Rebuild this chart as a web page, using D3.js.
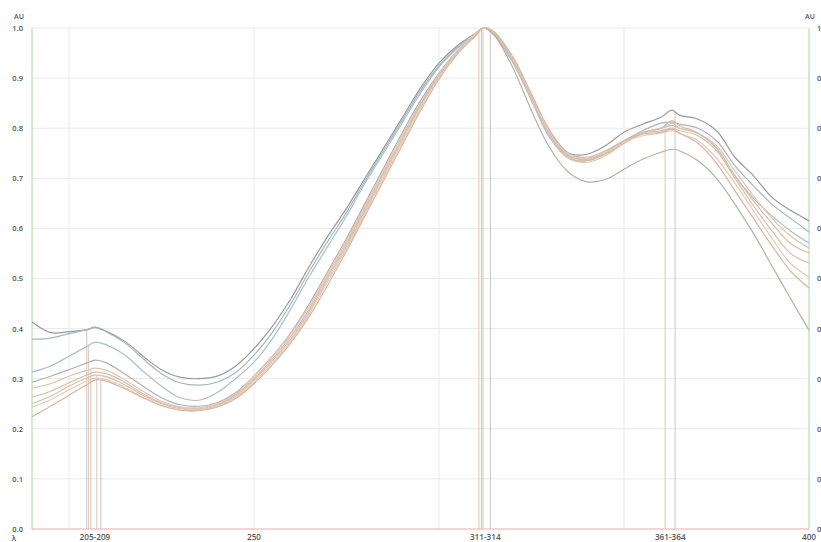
<!DOCTYPE html>
<html><head><meta charset="utf-8">
<script src="https://cdn.jsdelivr.net/npm/d3@7/dist/d3.min.js"></script>
<style>html,body{margin:0;padding:0;background:#fff;overflow:hidden}svg{display:block}</style>
</head><body><div id="chart"></div>
<script>
const wavelengths = [190,195,200,205,207,210,215,220,225,230,235,240,245,250,255,260,265,270,275,280,285,290,295,300,305,310,312,315,320,325,330,335,340,345,350,355,360,363,365,370,375,380,385,390,395,400];

const s1 = [0.413,0.392,0.394,0.398,0.403,0.395,0.375,0.345,0.318,0.303,0.300,0.305,0.325,0.360,0.405,0.460,0.525,0.585,0.640,0.700,0.760,0.820,0.880,0.930,0.965,0.990,1.000,0.990,0.940,0.865,0.790,0.750,0.748,0.765,0.792,0.808,0.822,0.836,0.826,0.818,0.795,0.742,0.705,0.662,0.636,0.615];
const s2 = [0.379,0.381,0.390,0.398,0.402,0.394,0.372,0.340,0.310,0.292,0.287,0.293,0.312,0.347,0.393,0.450,0.515,0.575,0.632,0.695,0.755,0.815,0.875,0.925,0.962,0.990,1.000,0.988,0.935,0.860,0.785,0.745,0.738,0.752,0.775,0.795,0.810,0.812,0.808,0.800,0.775,0.725,0.685,0.648,0.620,0.593];
const s3 = [0.313,0.325,0.345,0.365,0.373,0.368,0.348,0.315,0.285,0.262,0.257,0.272,0.300,0.333,0.380,0.440,0.505,0.565,0.625,0.690,0.750,0.810,0.870,0.922,0.960,0.990,1.000,0.985,0.930,0.855,0.780,0.740,0.735,0.750,0.770,0.790,0.800,0.805,0.800,0.790,0.760,0.705,0.660,0.625,0.595,0.571];
const s4 = [0.293,0.305,0.318,0.332,0.337,0.332,0.310,0.285,0.262,0.248,0.245,0.252,0.272,0.305,0.345,0.392,0.450,0.515,0.580,0.650,0.720,0.790,0.855,0.910,0.955,0.988,1.000,0.985,0.920,0.835,0.760,0.712,0.693,0.698,0.718,0.738,0.752,0.758,0.755,0.735,0.700,0.648,0.590,0.525,0.460,0.397];
const s5 = [0.281,0.290,0.305,0.317,0.321,0.317,0.298,0.275,0.255,0.244,0.242,0.250,0.270,0.305,0.345,0.390,0.445,0.510,0.575,0.645,0.715,0.785,0.850,0.908,0.955,0.990,1.000,0.990,0.935,0.860,0.785,0.740,0.732,0.745,0.770,0.790,0.800,0.810,0.800,0.790,0.765,0.715,0.665,0.620,0.585,0.561];
const s6 = [0.263,0.275,0.292,0.308,0.313,0.310,0.293,0.270,0.252,0.242,0.240,0.248,0.268,0.300,0.340,0.385,0.440,0.505,0.570,0.640,0.710,0.780,0.848,0.905,0.952,0.988,1.000,0.990,0.935,0.860,0.785,0.742,0.735,0.748,0.772,0.792,0.800,0.815,0.805,0.790,0.760,0.705,0.655,0.610,0.570,0.551];
const s7 = [0.250,0.265,0.285,0.302,0.307,0.304,0.288,0.267,0.250,0.240,0.238,0.246,0.265,0.297,0.336,0.380,0.435,0.500,0.565,0.635,0.705,0.775,0.845,0.905,0.952,0.990,1.000,0.992,0.938,0.862,0.790,0.745,0.738,0.750,0.775,0.790,0.795,0.800,0.795,0.785,0.755,0.700,0.645,0.595,0.550,0.531];
const s8 = [0.243,0.258,0.278,0.296,0.301,0.298,0.283,0.263,0.247,0.238,0.237,0.244,0.262,0.293,0.332,0.376,0.430,0.495,0.560,0.630,0.700,0.770,0.840,0.902,0.950,0.988,1.000,0.990,0.940,0.865,0.790,0.748,0.740,0.752,0.772,0.785,0.790,0.795,0.790,0.775,0.740,0.690,0.635,0.580,0.530,0.503];
const s9 = [0.224,0.245,0.267,0.289,0.297,0.295,0.280,0.262,0.246,0.237,0.236,0.243,0.260,0.290,0.328,0.372,0.425,0.488,0.555,0.625,0.695,0.765,0.835,0.898,0.948,0.985,1.000,0.990,0.942,0.868,0.795,0.750,0.742,0.755,0.775,0.788,0.792,0.798,0.790,0.770,0.730,0.675,0.620,0.565,0.515,0.481];

const seriesList = [s1,s2,s3,s4,s5,s6,s7,s8,s9];
const seriesColors = ["#999999","#a7b6bc","#aac0c9","#b5b0aa","#dfc5b3","#dcbca8","#d0c3b3","#e4cab9","#dbb7a0"];

const yTicks = [0,0.1,0.2,0.3,0.4,0.5,0.6,0.7,0.8,0.9,1.0];
const gridX = [200,250,300,350];
const xLabels = [{wl:207,text:"205-209"},{wl:250,text:"250"},{wl:312.5,text:"311-314"},{wl:362.5,text:"361-364"},{wl:400,text:"400"}];
// peak marker lines: wavelength, series index
const markers = [[204.8,0],[205.3,2],[205.9,4],[207.5,6],[208.6,8],[310.8,1],[311.5,5],[311.9,7],[313.9,3],[361.1,6],[363.8,0]];
const markerColors = ["#cbc5bf","#dec8b8"];

const W = 821, H = 542;
const x = d3.scaleLinear().domain([190,400]).range([32,809]);
const y = d3.scaleLinear().domain([0,1]).range([529,28]);

const svg = d3.select("#chart").append("svg").attr("width",W).attr("height",H);

svg.append("g").selectAll("line").data(yTicks.filter(d=>d>0)).join("line")
  .attr("x1",x(190)).attr("x2",x(400)).attr("y1",d=>y(d)).attr("y2",d=>y(d))
  .attr("stroke","#e9e9e9").attr("stroke-width",1);
svg.append("g").selectAll("line").data(gridX).join("line")
  .attr("x1",d=>x(d)).attr("x2",d=>x(d)).attr("y1",y(0)).attr("y2",y(1))
  .attr("stroke","#e9e9e9").attr("stroke-width",1);

function interp(s, wl){
  const i = d3.bisectLeft(wavelengths, wl);
  if (i<=0) return s[0];
  const x0=wavelengths[i-1], x1=wavelengths[i];
  const t=(wl-x0)/(x1-x0);
  return s[i-1]+(s[i]-s[i-1])*t;
}
svg.append("g").selectAll("line").data(markers).join("line")
  .attr("x1",d=>x(d[0])).attr("x2",d=>x(d[0]))
  .attr("y1",y(0)).attr("y2",d=>y(Math.min(1,interp(seriesList[d[1]],d[0]))))
  .attr("stroke",(d,i)=>markerColors[i%2]).attr("stroke-width",1);

svg.append("line").attr("x1",x(190)).attr("x2",x(190)).attr("y1",y(0)).attr("y2",y(1)).attr("stroke","#a8d8a8").attr("stroke-width",1);
svg.append("line").attr("x1",x(400)).attr("x2",x(400)).attr("y1",y(0)).attr("y2",y(1)).attr("stroke","#a8d8a8").attr("stroke-width",1);
svg.append("line").attr("x1",x(190)).attr("x2",x(400)).attr("y1",y(0)).attr("y2",y(0)).attr("stroke","#f0a8a8").attr("stroke-width",1);

const line = d3.line().x((d,i)=>x(wavelengths[i])).y(d=>y(d)).curve(d3.curveCatmullRom.alpha(0.5));
svg.append("g").selectAll("path").data(seriesList).join("path")
  .attr("d",line).attr("fill","none")
  .attr("stroke",(d,i)=>seriesColors[i]).attr("stroke-width",1.2);

const font = "'Open Sans', 'DejaVu Sans', sans-serif";
const yAxisL = d3.axisLeft(y).tickValues(yTicks).tickFormat(d3.format(".1f")).tickSize(0).tickPadding(9);
const gL = svg.append("g").attr("transform",`translate(${x(190)},0)`).call(yAxisL);
gL.select(".domain").remove();
gL.selectAll("text").attr("font-family",font).attr("font-size",7.5).attr("fill","#555").attr("font-weight",600);

const yAxisR = d3.axisRight(y).tickValues(yTicks).tickFormat(d3.format(".1f")).tickSize(0).tickPadding(8);
const gR = svg.append("g").attr("transform",`translate(${x(400)},0)`).call(yAxisR);
gR.select(".domain").remove();
gR.selectAll("text").attr("font-family",font).attr("font-size",7.5).attr("fill","#555").attr("font-weight",600);

svg.append("text").attr("x",19).attr("y",19).attr("text-anchor","middle").attr("font-family",font).attr("font-size",7).attr("font-weight",600).attr("fill","#555").text("AU");
svg.append("text").attr("x",810).attr("y",19).attr("text-anchor","middle").attr("font-family",font).attr("font-size",7).attr("font-weight",600).attr("fill","#555").text("AU");
svg.append("text").attr("x",14).attr("y",541).attr("text-anchor","middle").attr("font-family",font).attr("font-size",7.5).attr("font-weight",600).attr("fill","#555").text("λ");

svg.append("g").selectAll("text").data(xLabels).join("text")
  .attr("x",d=>x(d.wl)).attr("y",540).attr("text-anchor","middle")
  .attr("font-family",font).attr("font-size",8.2).attr("font-weight",600).attr("fill","#555")
  .text(d=>d.text);
</script></body></html>
